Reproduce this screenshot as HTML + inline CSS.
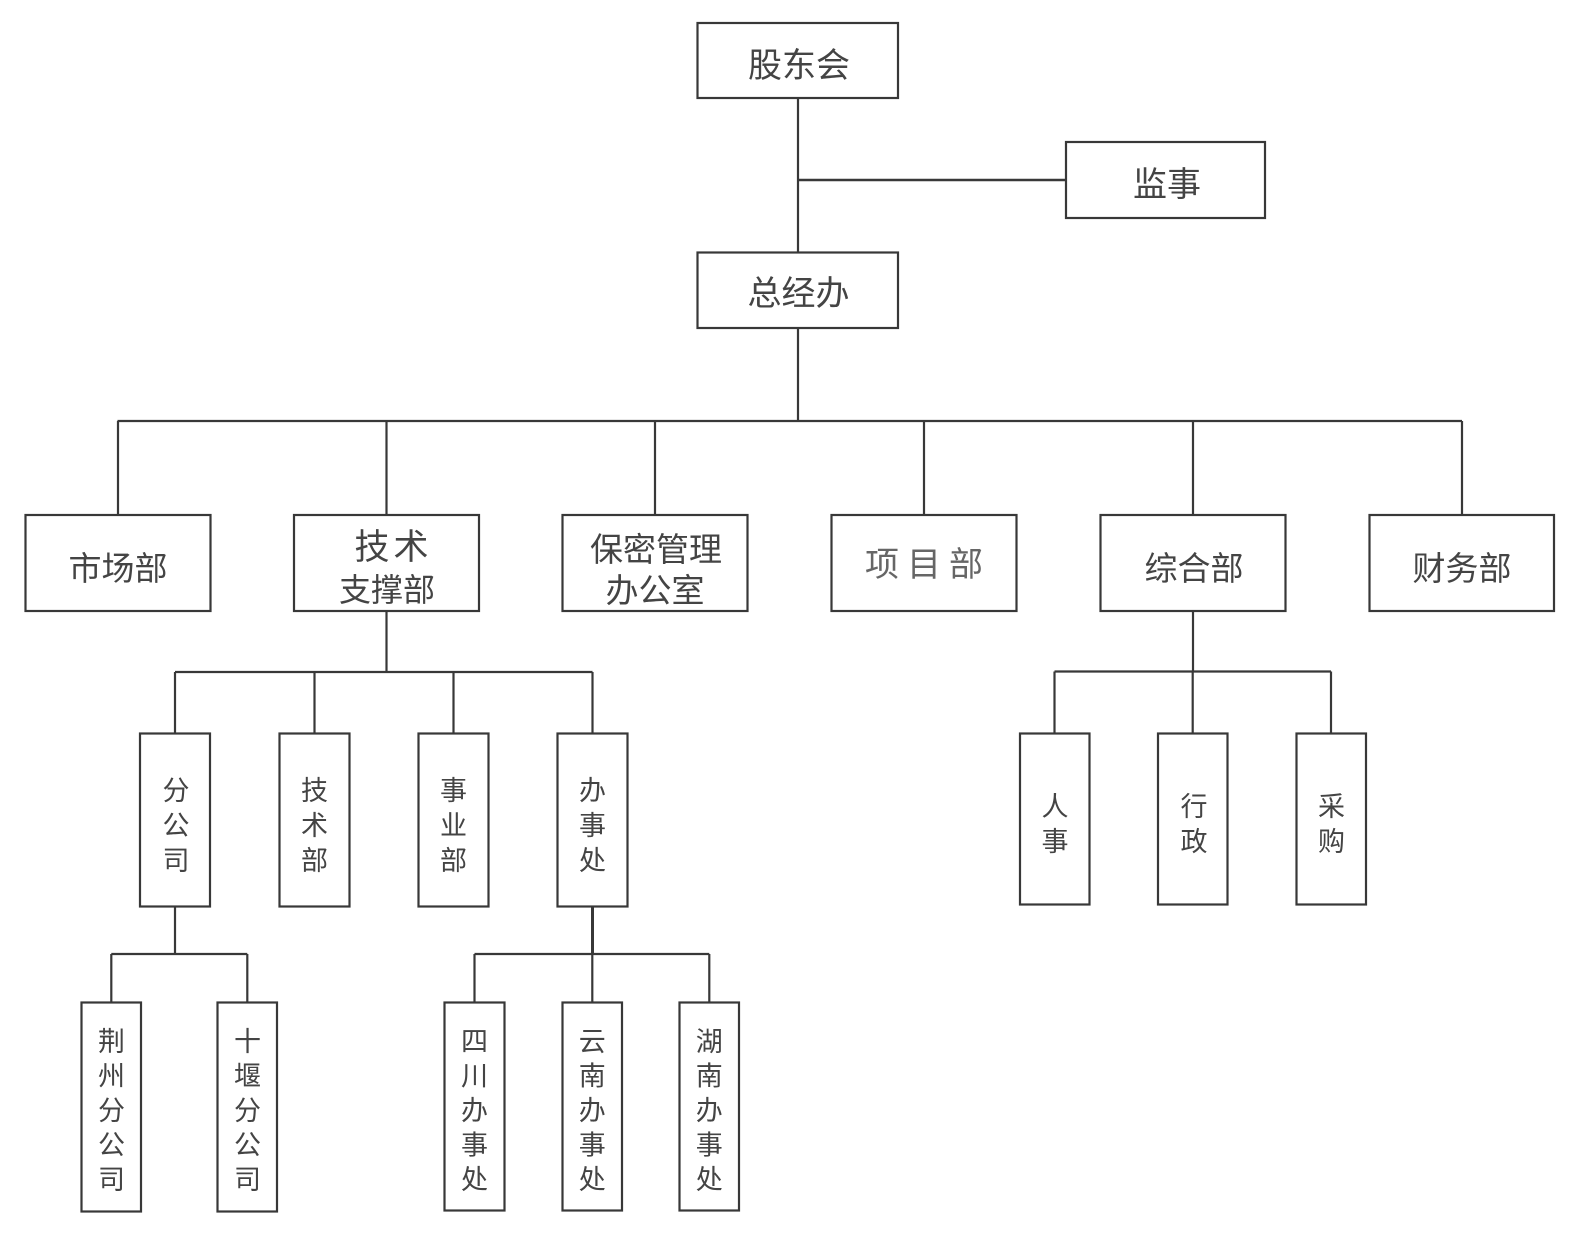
<!DOCTYPE html>
<html>
<head>
<meta charset="utf-8">
<style>
  html, body { margin:0; padding:0; background:#ffffff; }
  body { width:1578px; height:1236px; overflow:hidden; }
  svg { display:block; }
  text { font-family: "Liberation Sans", "Noto Sans CJK SC", "WenQuanYi Zen Hei", sans-serif; fill:#444; }
</style>
</head>
<body>
<svg width="1578" height="1236" viewBox="0 0 1578 1236" xmlns="http://www.w3.org/2000/svg">
  <g fill="none" stroke="#383838" stroke-width="2.2">
    <!-- top connectors -->
    <line x1="798" y1="98" x2="798" y2="252.5"/>
    <line x1="798" y1="180" x2="1066" y2="180" stroke-width="2.6"/>
    <line x1="798" y1="328" x2="798" y2="421"/>
    <!-- main bus -->
    <line x1="117.5" y1="421" x2="1462" y2="421"/>
    <line x1="118" y1="421" x2="118" y2="515"/>
    <line x1="386.5" y1="421" x2="386.5" y2="515"/>
    <line x1="655" y1="421" x2="655" y2="515"/>
    <line x1="924" y1="421" x2="924" y2="515"/>
    <line x1="1193" y1="421" x2="1193" y2="515"/>
    <line x1="1462" y1="421" x2="1462" y2="515"/>
    <!-- 技术支撑部 children -->
    <line x1="386.5" y1="611" x2="386.5" y2="672"/>
    <line x1="175" y1="672" x2="592.5" y2="672"/>
    <line x1="175" y1="672" x2="175" y2="733.5"/>
    <line x1="314.5" y1="672" x2="314.5" y2="733.5"/>
    <line x1="453.5" y1="672" x2="453.5" y2="733.5"/>
    <line x1="592.5" y1="672" x2="592.5" y2="733.5"/>
    <!-- 综合部 children -->
    <line x1="1193" y1="611" x2="1193" y2="671.5"/>
    <line x1="1054.5" y1="671.5" x2="1331" y2="671.5"/>
    <line x1="1054.5" y1="671.5" x2="1054.5" y2="733.5"/>
    <line x1="1192.7" y1="671.5" x2="1192.7" y2="733.5"/>
    <line x1="1331" y1="671.5" x2="1331" y2="733.5"/>
    <!-- 分公司 children -->
    <line x1="175" y1="906.5" x2="175" y2="954"/>
    <line x1="111.3" y1="954" x2="247.3" y2="954"/>
    <line x1="111.3" y1="954" x2="111.3" y2="1002.5"/>
    <line x1="247.3" y1="954" x2="247.3" y2="1002.5"/>
    <!-- 办事处 children -->
    <line x1="592.5" y1="906.5" x2="592.5" y2="954" stroke-width="3"/>
    <line x1="474.5" y1="954" x2="709.3" y2="954"/>
    <line x1="474.5" y1="954" x2="474.5" y2="1002.5"/>
    <line x1="592.3" y1="954" x2="592.3" y2="1002.5"/>
    <line x1="709.3" y1="954" x2="709.3" y2="1002.5"/>

    <!-- boxes level 1/2 -->
    <rect x="697.5" y="23" width="200.5" height="75"/>
    <rect x="1066" y="142" width="199" height="76"/>
    <rect x="697.5" y="252.5" width="200.5" height="75.5"/>
    <!-- level 3 -->
    <rect x="25.5" y="515" width="185" height="96"/>
    <rect x="294" y="515" width="185" height="96"/>
    <rect x="562.5" y="515" width="185" height="96"/>
    <rect x="831.5" y="515" width="185" height="96"/>
    <rect x="1100.5" y="515" width="185" height="96"/>
    <rect x="1369.5" y="515" width="184.5" height="96"/>
    <!-- level 4 -->
    <rect x="140" y="733.5" width="70" height="173"/>
    <rect x="279.5" y="733.5" width="70" height="173"/>
    <rect x="418.5" y="733.5" width="70" height="173"/>
    <rect x="557.5" y="733.5" width="70" height="173"/>
    <rect x="1020" y="733.5" width="69.5" height="171"/>
    <rect x="1158" y="733.5" width="69.5" height="171"/>
    <rect x="1296.5" y="733.5" width="69.5" height="171"/>
    <!-- level 5 -->
    <rect x="81.5" y="1002.5" width="59.5" height="209"/>
    <rect x="217.5" y="1002.5" width="59.5" height="209"/>
    <rect x="444.5" y="1002.5" width="60" height="208"/>
    <rect x="562.5" y="1002.5" width="59.5" height="208"/>
    <rect x="679.5" y="1002.5" width="59.5" height="208"/>
  </g>

  <!-- labels -->
  <g font-size="34" text-anchor="middle">
    <text x="799" y="77">股东会</text>
    <text x="1167" y="196">监事</text>
    <text x="798.5" y="305">总经办</text>
    <text x="118" y="580" font-size="33">市场部</text>
    <text x="393.5" y="559" font-size="35" letter-spacing="4">技术</text>
    <text x="387" y="601" font-size="32">支撑部</text>
    <text x="656" y="561" font-size="33">保密管理</text>
    <text x="655" y="602" font-size="33">办公室</text>
    <text x="928" y="576" font-size="34" letter-spacing="8" style="fill:#666">项目部</text>
    <text x="1194" y="580" font-size="33">综合部</text>
    <text x="1462" y="580" font-size="33">财务部</text>
  </g>

  <g font-size="27" text-anchor="middle">
    <text x="176" y="800">分<tspan x="176" dy="35">公</tspan><tspan x="176" dy="35">司</tspan></text>
    <text x="314.5" y="800">技<tspan x="314.5" dy="35">术</tspan><tspan x="314.5" dy="35">部</tspan></text>
    <text x="453.5" y="800">事<tspan x="453.5" dy="35">业</tspan><tspan x="453.5" dy="35">部</tspan></text>
    <text x="592.5" y="800">办<tspan x="592.5" dy="35">事</tspan><tspan x="592.5" dy="35">处</tspan></text>
    <text x="1055" y="816">人<tspan x="1055" dy="35">事</tspan></text>
    <text x="1194" y="816">行<tspan x="1194" dy="35">政</tspan></text>
    <text x="1331.5" y="816">采<tspan x="1331.5" dy="35">购</tspan></text>

    <text x="111.5" y="1051">荆<tspan x="111.5" dy="34.5">州</tspan><tspan x="111.5" dy="34.5">分</tspan><tspan x="111.5" dy="34.5">公</tspan><tspan x="111.5" dy="34.5">司</tspan></text>
    <text x="247.5" y="1051">十<tspan x="247.5" dy="34.5">堰</tspan><tspan x="247.5" dy="34.5">分</tspan><tspan x="247.5" dy="34.5">公</tspan><tspan x="247.5" dy="34.5">司</tspan></text>
    <text x="474.5" y="1051">四<tspan x="474.5" dy="34.5">川</tspan><tspan x="474.5" dy="34.5">办</tspan><tspan x="474.5" dy="34.5">事</tspan><tspan x="474.5" dy="34.5">处</tspan></text>
    <text x="592.3" y="1051">云<tspan x="592.3" dy="34.5">南</tspan><tspan x="592.3" dy="34.5">办</tspan><tspan x="592.3" dy="34.5">事</tspan><tspan x="592.3" dy="34.5">处</tspan></text>
    <text x="709.3" y="1051">湖<tspan x="709.3" dy="34.5">南</tspan><tspan x="709.3" dy="34.5">办</tspan><tspan x="709.3" dy="34.5">事</tspan><tspan x="709.3" dy="34.5">处</tspan></text>
  </g>
</svg>
</body>
</html>
